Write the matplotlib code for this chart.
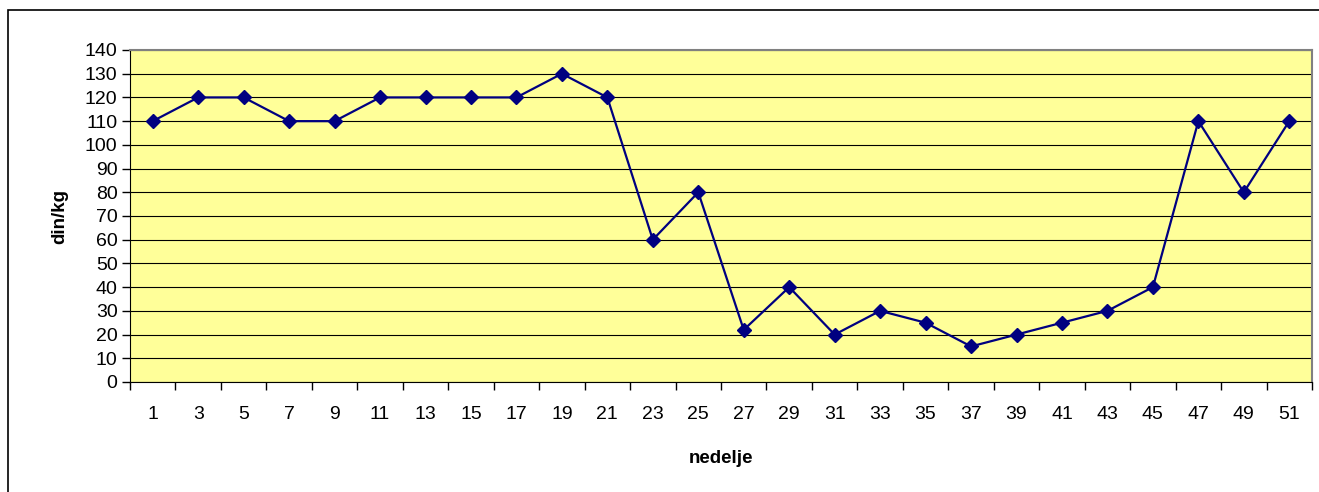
import matplotlib.pyplot as plt
from matplotlib.patches import Rectangle

plt.rcParams['font.family'] = ['Liberation Sans', 'DejaVu Sans']

weeks = [str(w) for w in range(1, 52, 2)]
prices = [110, 120, 120, 110, 110, 120, 120, 120, 120, 130, 120, 60, 80,
          22, 40, 20, 30, 25, 15, 20, 25, 30, 40, 110, 80, 110]

fig = plt.figure(figsize=(13.19, 4.92), dpi=100)
ax = fig.add_axes([130/1319, 110/492, 1182/1319, 332/492])

# chart frame (right and bottom edges fall outside the picture)
fig.patches.append(Rectangle((8/1319, -0.1), 1.2, 1.1 - 10/492,
                             transform=fig.transFigure, fill=False,
                             edgecolor='black', linewidth=1.2))

ax.set_facecolor('#FFFF99')
x = list(range(len(weeks)))
ax.plot(x, prices, color='#000080', linewidth=1.6, marker='D',
        markersize=6.8, zorder=3)

ax.set_xlim(-0.5, len(weeks) - 0.5)
ax.set_ylim(0, 140)
ax.set_yticks(range(0, 141, 10))
ax.set_xticks(x)
ax.set_xticklabels(weeks)
ax.set_xticks([i - 0.5 for i in range(len(weeks) + 1)], minor=True)
ax.tick_params(axis='x', which='major', length=0, pad=17, labelsize=14)
ax.tick_params(axis='x', which='minor', length=6, width=1, direction='out')
ax.tick_params(axis='y', length=6, width=1, direction='out', labelsize=14, pad=3)

ax.grid(axis='y', color='black', linewidth=0.8)
ax.set_axisbelow(True)
for s in ['top', 'right']:
    ax.spines[s].set_color('#808080')
    ax.spines[s].set_linewidth(1.5)
for s in ['left', 'bottom']:
    ax.spines[s].set_color('black')
    ax.spines[s].set_linewidth(0.8)

ax.set_ylabel('din/kg', fontsize=13.5, fontweight='bold', labelpad=12)
ax.set_xlabel('nedelje', fontsize=13.5, fontweight='bold', labelpad=20)

fig.savefig('out.png', dpi=100)
